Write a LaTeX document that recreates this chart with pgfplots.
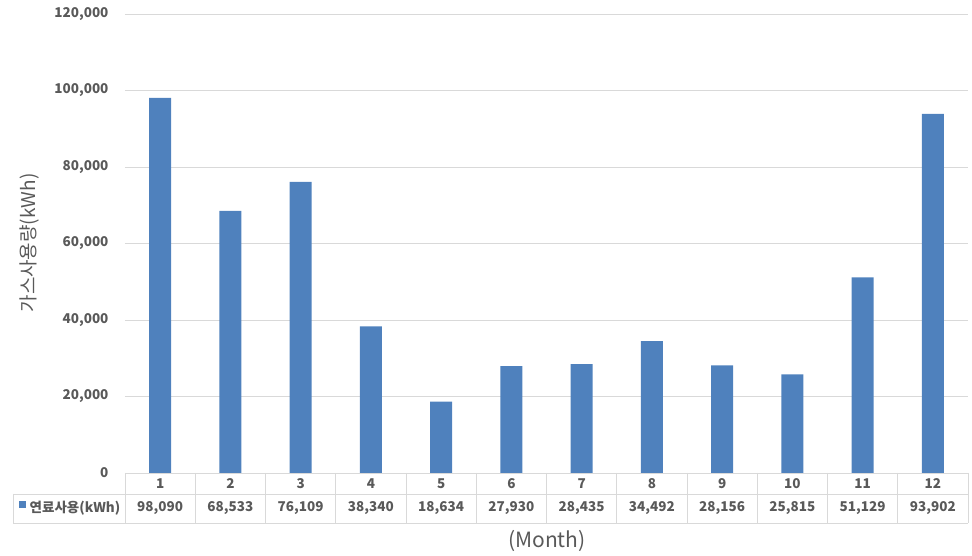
\documentclass[border=0pt]{standalone}
\usepackage{pgfplots}
\pgfplotsset{compat=1.18}
\usepackage{pgfplotstable}
\usepackage{fontspec}
\setmainfont{Noto Sans CJK KR}
\definecolor{barblue}{HTML}{4F81BD}
\definecolor{txtgray}{HTML}{595959}
\definecolor{gridgray}{HTML}{D9D9D9}
\pgfplotstableread{
m v
1 98090
2 68533
3 76109
4 38340
5 18634
6 27930
7 28435
8 34492
9 28156
10 25815
11 51129
12 93902
}\gasdata
\begin{document}
\begin{tikzpicture}[x=1pt,y=1pt]
\path[use as bounding box] (0,0) rectangle (972,556);
\begin{axis}[
  at={(125pt,83pt)}, anchor=south west,
  scale only axis, width=843pt, height=459pt,
  xmin=0.5, xmax=12.5, ymin=0, ymax=120000,
  axis line style={draw=none},
  clip=false,
  ytick={0,20000,...,120000},
  xtick={1,...,12},
  major tick length=0pt,
  ymajorgrids, grid style={gridgray, line width=0.8pt},
  scaled y ticks=false,
  /pgf/number format/.cd, fixed, precision=0, 1000 sep={,}, assume math mode=true,
  /pgfplots/.cd,
  yticklabel style={font=\fontsize{13.5}{15}\selectfont\bfseries, text=txtgray, anchor=east, xshift=-13pt},
  xticklabel style={font=\fontsize{13.5}{15}\selectfont\bfseries, text=txtgray, anchor=center, yshift=-10.5pt},
]
\addplot[ybar, bar width=22pt, fill=barblue, draw=none] table[x=m, y=v] {\gasdata};
\addplot[draw=none, mark=none, nodes near coords, point meta=explicit,
  nodes near coords style={font=\fontsize{13.5}{15}\selectfont\bfseries, text=txtgray, anchor=center, yshift=-35pt}]
  table[x=m, y expr=0, meta=v] {\gasdata};
\end{axis}
% data table grid
\begin{scope}[gridgray, line width=0.8pt]
\draw (125,83) -- (968,83);
\draw (13,62) -- (968,62);
\draw (13,33) -- (968,33);
\draw (13,62) -- (13,33);
\foreach \k in {0,...,12} {\draw ({125+70.25*\k},83) -- ({125+70.25*\k},33);}
\end{scope}
\fill[barblue] (19.3,48) rectangle (25.8,54.5);
\node[anchor=west, inner sep=0pt, text=txtgray, font=\fontsize{13.5}{15}\selectfont\bfseries] at (29.5,48) {연료사용(kWh)};
\node[rotate=90, text=txtgray, font=\fontsize{19}{22}\selectfont] at (30,313) {가스사용량(kWh)};
\node[text=txtgray, font=\fontsize{21}{24}\selectfont] at (547,15) {(Month)};
\end{tikzpicture}
\end{document}
